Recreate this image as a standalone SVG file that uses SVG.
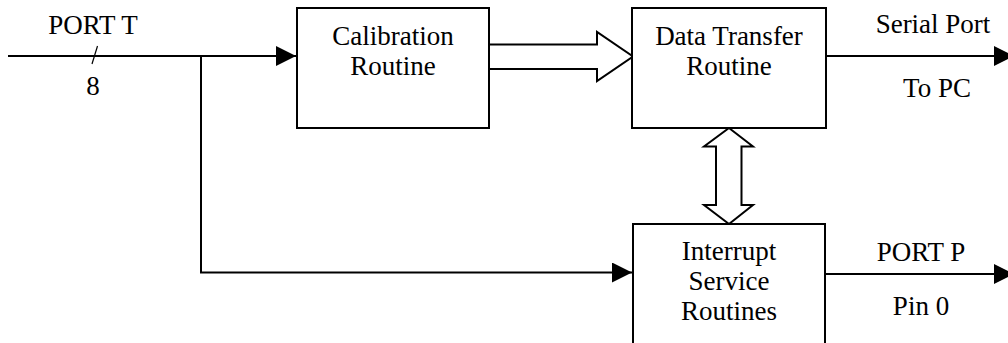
<svg xmlns="http://www.w3.org/2000/svg" width="1008" height="343" viewBox="0 0 1008 343">
<style>
.box{fill:#fff;stroke:#000;stroke-width:2}
.ln{fill:none;stroke:#000;stroke-width:2}
.fat{fill:#fff;stroke:#000;stroke-width:2;stroke-linejoin:miter}
text{font-family:"Liberation Serif","Times New Roman",serif;font-size:27px;fill:#000;text-anchor:middle}
</style>
<defs>
<marker id="ah" markerUnits="userSpaceOnUse" markerWidth="20" markerHeight="20" refX="20" refY="10" orient="auto">
<path d="M0,0 L20,10 L0,20 Z" fill="#000"/>
</marker>
</defs>
<rect width="1008" height="343" fill="#fff"/>
<g id="connectors">
<path class="ln" d="M8,56 H296" marker-end="url(#ah)"/>
<line x1="92" y1="64" x2="97.5" y2="46" stroke="#000" stroke-width="1.2"/>
<path class="ln" d="M201,56 V272.5 H632" marker-end="url(#ah)"/>
<polygon class="fat" points="489,44.5 597,44.5 597,32 633,56.5 597,81 597,69 489,69"/>
<polygon class="fat" points="729,128 753,146.5 741.5,146.5 741.5,205 753,205 729,224 704,205 716,205 716,146.5 704,146.5"/>
<path class="ln" d="M826,56 H1014" marker-end="url(#ah)"/>
<path class="ln" d="M825,274 H1014" marker-end="url(#ah)"/>
</g>
<g id="port-t-label">
<text x="93" y="34">PORT T</text>
<text x="93" y="95">8</text>
</g>
<g id="calibration">
<rect class="box" x="297" y="8" width="192" height="120"/>
<text x="393" y="45">Calibration</text>
<text x="393" y="75">Routine</text>
</g>
<g id="data-transfer">
<rect class="box" x="632" y="8" width="194" height="120"/>
<text x="729" y="45">Data Transfer</text>
<text x="729" y="75">Routine</text>
</g>
<g id="isr">
<rect class="box" x="633" y="224" width="192" height="130"/>
<text x="729" y="260">Interrupt</text>
<text x="729" y="290">Service</text>
<text x="729" y="320">Routines</text>
</g>
<g id="serial-label">
<text x="933" y="33">Serial Port</text>
<text x="937" y="97">To PC</text>
</g>
<g id="portp-label">
<text x="921" y="261">PORT P</text>
<text x="921" y="315">Pin 0</text>
</g>
</svg>
